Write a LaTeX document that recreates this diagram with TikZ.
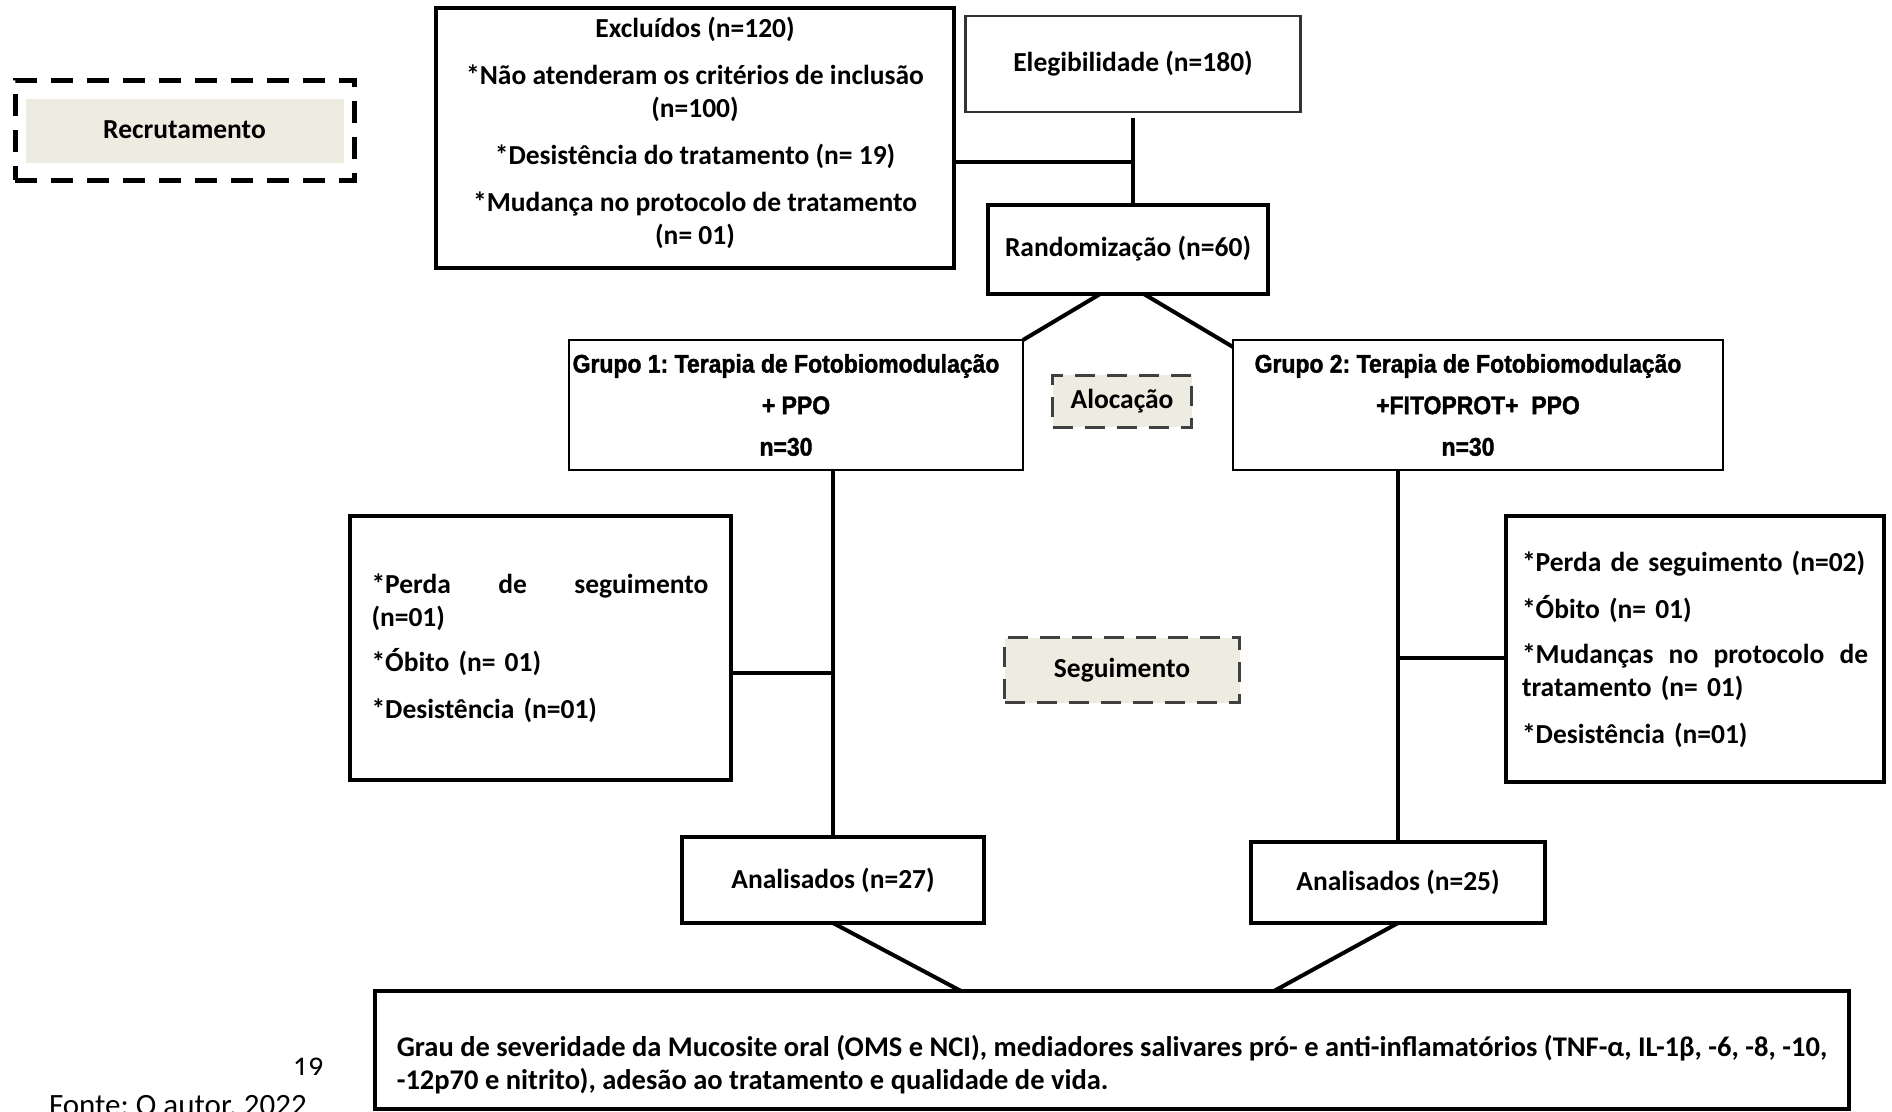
\documentclass[tikz,border=0pt]{standalone}
\usepackage{fontspec}
\setmainfont{Carlito}
\newfontfamily\arialfont{Liberation Sans}[FakeStretch=0.9, BoldFeatures={FakeBold=1.5}]
\definecolor{beige}{HTML}{EEECE1}
\frenchspacing
\begin{document}
\begin{tikzpicture}[x=1pt,y=1pt,
  every node/.style={inner sep=0pt, outer sep=0pt},
  boldtxt/.style={font=\bfseries\fontsize{27.5}{33}\selectfont},
  thickbox/.style={draw, line width=4pt, boldtxt, align=center},
  thinbox/.style={draw, line width=2pt},
  grp/.style={thinbox, align=center, font=\arialfont\bfseries\fontsize{25.5}{41.5}\selectfont},
  conn/.style={line width=4pt},
  stage/.style={draw=black!75, line width=3pt, dash pattern=on 20pt off 12pt, fill=beige, boldtxt}
]
\useasboundingbox (0,0) rectangle (1892,-1111);

% Recrutamento
\fill[beige] (26,-99) rectangle (344,-163);
\node[draw, line width=5pt, dash pattern=on 22pt off 14pt, minimum width=339pt, minimum height=100pt, boldtxt] (recr) at (184.5,-130) {Recrutamento};

% Excluidos
\node[thickbox, text depth=15pt, minimum width=518pt, minimum height=260pt] (excl) at (695,-138)
 {Excluídos (n=120)\\[14pt]
  *Não atenderam os critérios de inclusão\\
  (n=100)\\[14pt]
  *Desistência do tratamento (n= 19)\\[14pt]
  *Mudança no protocolo de tratamento\\
  (n= 01)};

\node[thinbox, draw=black!80, line width=2.5pt, boldtxt, minimum width=335pt, minimum height=96pt] (eleg) at (1133,-64) {Elegibilidade (n=180)};
\node[thickbox, minimum width=280pt, minimum height=89pt] (rand) at (1128,-249) {Randomização (n=60)};
\coordinate (j1) at (1133,-162);
\draw[conn] ([yshift=-6pt]eleg.south) -- (eleg.south |- rand.north);
\draw[conn] (excl.east |- j1) -- (j1);

% Grupos
\node[grp, minimum width=454pt, minimum height=130pt] (g1) at (796,-405)
 {Grupo 1: Terapia de Fotobiomodulação\hspace*{20pt}\\+ PPO\hspace*{20pt}\\n=30\hspace*{20pt}};
\node[grp, minimum width=490pt, minimum height=130pt] (g2) at (1478,-405)
 {Grupo 2: Terapia de Fotobiomodulação\hspace*{20pt}\\+FITOPROT+~ PPO\hspace*{20pt}\\n=30\hspace*{20pt}};
\draw[conn] ([xshift=-27pt]rand.south) -- (g1.north east);
\draw[conn] ([xshift=15pt]rand.south) -- ([yshift=-7pt]g2.north west);

% stage labels
\node[stage, minimum width=139pt, minimum height=52pt] (aloc) at (1122,-401) {Alocação};
\node[stage, minimum width=235pt, minimum height=65pt] (seg) at (1122,-670) {Seguimento};

% losses
\node[draw, line width=4pt, boldtxt, align=left, text width=337pt, minimum width=381pt, minimum height=264pt] (loss1) at (540,-648)
 {*Perda\hfill de\hfill seguimento\\
  (n=01)\\[12pt]
  *Óbito (n= 01)\\[14pt]
  *Desistência (n=01)};
\node[draw, line width=4pt, boldtxt, align=left, text width=346pt, minimum width=378pt, minimum height=266pt] (loss2) at (1695,-649)
 {*Perda de seguimento (n=02)\\[14pt]
  *Óbito (n= 01)\\[12pt]
  *Mudanças\hfill no\hfill protocolo\hfill de\\
  tratamento (n= 01)\\[14pt]
  *Desistência (n=01)};

% analisados
\node[thickbox, minimum width=302pt, minimum height=86pt] (an1) at (833,-880) {Analisados (n=27)};
\node[thickbox, minimum width=294pt, minimum height=81pt] (an2) at (1398,-882.5) {Analisados (n=25)};

\coordinate (t1) at (832,-673);
\coordinate (t2) at (1400,-658);
\draw[conn] (an1.north |- g1.south) -- (an1.north);
\draw[conn] (loss1.east |- t1) -- (t1);
\draw[conn] (an2.north |- g2.south) -- (an2.north);
\draw[conn] (t2) -- (loss2.west |- t2);

% resultado
\node[draw, line width=4pt, font=\bfseries\fontsize{28.5}{33}\selectfont, align=left, text height=82pt, text depth=4pt, minimum width=1474pt, minimum height=118pt] (res) at (1112,-1050)
 {Grau de severidade da Mucosite oral (OMS e NCI), mediadores salivares pró- e anti-inflamatórios (TNF-α, IL-1β, -6, -8, -10,\\
  -12p70 e nitrito), adesão ao tratamento e qualidade de vida.};
\draw[conn] (an1.south) -- ([xshift=-151pt]res.north);
\draw[conn] (an2.south) -- ([xshift=162pt]res.north);

% page number and source
\begin{scope}
\clip (270,-1050) rectangle (350,-1074);
\node[font=\fontsize{30}{36}\selectfont, anchor=north] (pg) at (308,-1058) {19};
\end{scope}
\node[font=\fontsize{31}{36}\selectfont, anchor=north west] (fonte) at (49,-1095) {Fonte: O autor, 2022};
\end{tikzpicture}
\end{document}
